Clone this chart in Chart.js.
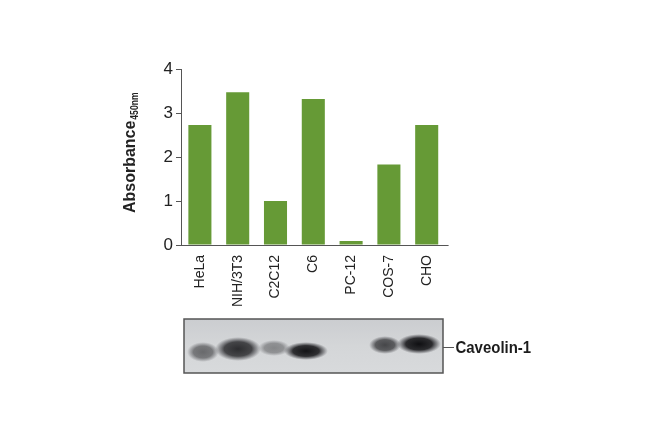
<!DOCTYPE html>
<html><head><meta charset="utf-8">
<style>html,body{margin:0;padding:0;background:#fff}#wrap{width:650px;height:438px;position:relative}canvas{filter:blur(0.35px)}</style>
<script src="https://cdn.jsdelivr.net/npm/chart.js@4"></script>
</head><body><div id="wrap"><canvas id="c" width="650" height="438"></canvas></div>
<script>
const categories = ["HeLa","NIH/3T3","C2C12","C6","PC-12","COS-7","CHO"];
const absorbance = [2.73,3.47,1.0,3.32,0.09,1.83,2.73];
const yTicks = [0,1,2,3,4];
const blotLabel = "Caveolin-1";
const axisTitle = "Absorbance";
const axisSub = "450nm";
// western blot bands: centre x, centre y, radius x, radius y, darkness
const blotX = [203,238,274,306,385,419];
const blotY = [352,349,348,351,345,344];
const blotRx = [16,23,16,22,16,22];
const blotRy = [10,12,8,9,9,10];
const blotDark = [0.55,0.85,0.4,0.98,0.72,1];

const AXIS = '#555';
const extras = {
  id:'extras',
  afterDraw(chart){
    const ctx = chart.ctx, x = chart.scales.x, y = chart.scales.y;
    ctx.save();
    // extend baseline
    ctx.strokeStyle = AXIS; ctx.lineWidth = 1;
    ctx.beginPath(); ctx.moveTo(x.right-1, y.getPixelForValue(0)+.5); ctx.lineTo(x.right+3, y.getPixelForValue(0)+.5); ctx.stroke();
    // axis title with subscript
    ctx.save();
    ctx.translate(135,213); ctx.rotate(-Math.PI/2);
    ctx.fillStyle='#222'; ctx.textBaseline='alphabetic'; ctx.textAlign='left';
    ctx.save(); ctx.scale(0.94,1);
    ctx.font='bold 17px "Liberation Sans"';
    ctx.fillText(axisTitle,0,0);
    const w = ctx.measureText(axisTitle).width*0.94;
    ctx.restore();
    ctx.translate(w+1,3); ctx.scale(0.78,1);
    ctx.font='bold 11px "Liberation Sans"';
    ctx.fillText(axisSub,0,0);
    ctx.restore();
    // blot panel
    const bx=184,by=319,bw=259,bh=54;
    const g = ctx.createLinearGradient(bx,by,bx,by+bh);
    g.addColorStop(0,'#cbcdd0'); g.addColorStop(.5,'#d4d6d8'); g.addColorStop(1,'#d8dadc');
    ctx.fillStyle=g; ctx.fillRect(bx,by,bw,bh);
    ctx.beginPath(); ctx.rect(bx,by,bw,bh); ctx.clip();
    blotX.forEach((cx,i)=>{
      ctx.save();
      ctx.translate(cx,blotY[i]); ctx.scale(blotRx[i],blotRy[i]);
      const d=blotDark[i];
      const r=ctx.createRadialGradient(0,0,0,0,0,1);
      r.addColorStop(0,`rgba(15,15,18,${d})`);
      r.addColorStop(.6,`rgba(25,25,28,${d*.9})`);
      r.addColorStop(.82,`rgba(50,50,55,${d*.45})`);
      r.addColorStop(1,'rgba(80,80,85,0)');
      ctx.fillStyle=r; ctx.beginPath(); ctx.arc(0,0,1,0,Math.PI*2); ctx.fill();
      ctx.restore();
    });
    ctx.restore();
    ctx.save();
    ctx.strokeStyle='#555'; ctx.lineWidth=1.5; ctx.strokeRect(bx,by,bw,bh);
    ctx.lineWidth=1; ctx.beginPath(); ctx.moveTo(443,347.5); ctx.lineTo(454,347.5); ctx.stroke();
    ctx.fillStyle='#1c1c1c'; ctx.textBaseline='middle'; ctx.textAlign='left';
    ctx.translate(455.5,348); ctx.scale(0.88,1);
    ctx.font='bold 17px "Liberation Sans"';
    ctx.fillText(blotLabel,0,0);
    ctx.restore();
  }
};
new Chart(document.getElementById('c'),{
  type:'bar',
  data:{labels:categories,datasets:[{data:absorbance,backgroundColor:'#669a36',barPercentage:.61,categoryPercentage:1}]},
  options:{
    responsive:false,animation:false,
    layout:{padding:{left:146,right:204.4,top:69,bottom:123}},
    plugins:{legend:{display:false},tooltip:{enabled:false},title:{display:false}},
    scales:{
      x:{
        grid:{display:false,drawTicks:false},
        border:{display:true,color:AXIS,width:1},
        afterFit(s){s.height=70;},
        ticks:{minRotation:90,maxRotation:90,autoSkip:false,padding:10,color:'#222',font:{family:'"Liberation Sans"',size:14}}
      },
      y:{
        min:0,max:4,
        afterBuildTicks(s){s.ticks=yTicks.map(v=>({value:v}));},
        afterFit(s){s.width=35;},
        grid:{display:true,drawOnChartArea:false,drawTicks:true,tickLength:5,color:AXIS},
        border:{display:true,color:AXIS,width:1},
        ticks:{padding:3,color:'#222',font:{family:'"Liberation Sans"',size:17}}
      }
    }
  },
  plugins:[extras]
});
</script></body></html>
